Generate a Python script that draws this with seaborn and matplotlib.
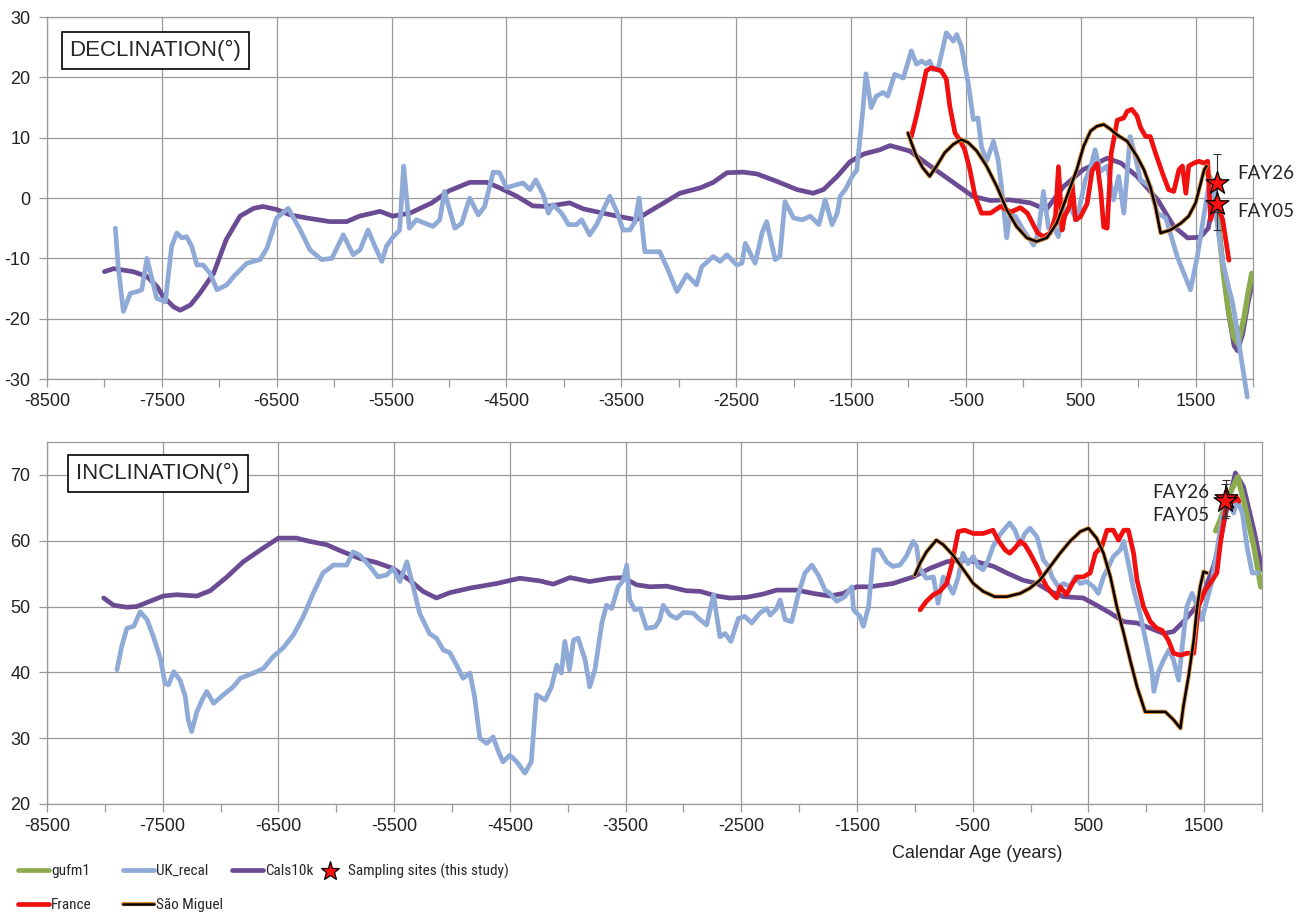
import os
import matplotlib
matplotlib.use("Agg")
import matplotlib.pyplot as plt
import matplotlib.patheffects as pe
from matplotlib import font_manager
from matplotlib.lines import Line2D
import pandas as pd
import seaborn as sns

# ---------------------------------------------------------------- data
# Declination (degrees) against calendar age (years)
CALS10K_DEC = [(-8000, -12.2), (-7920, -11.7), (-7750, -12.2), (-7630, -13.0), (-7540, -14.7),
               (-7490, -16.3), (-7400, -18.0), (-7340, -18.6), (-7250, -17.7), (-7170, -15.8),
               (-7050, -12.5), (-6940, -6.9), (-6820, -3.0), (-6700, -1.7), (-6620, -1.4),
               (-6500, -1.9), (-6380, -2.8), (-6240, -3.3), (-6040, -3.9), (-5890, -3.9),
               (-5780, -3.0), (-5600, -2.2), (-5490, -3.0), (-5340, -2.5), (-5150, -0.8),
               (-5000, 1.2), (-4820, 2.6), (-4670, 2.6), (-4560, 1.7), (-4410, 0.3),
               (-4270, -1.3), (-4150, -1.4), (-3950, -0.8), (-3830, -1.8), (-3660, -2.5),
               (-3480, -3.2), (-3370, -3.6), (-3280, -2.5), (-3130, -0.8), (-2990, 0.8),
               (-2810, 1.7), (-2700, 2.6), (-2580, 4.2), (-2440, 4.3), (-2320, 4.0),
               (-2150, 2.8), (-1970, 1.4), (-1830, 0.8), (-1740, 1.4), (-1620, 3.6),
               (-1510, 6.0), (-1390, 7.3), (-1250, 8.0), (-1160, 8.7), (-990, 7.8),
               (-810, 5.3), (-640, 3.0), (-440, 0.3), (-290, -0.4), (-120, -0.3),
               (60, -0.8), (200, -1.9), (350, 1.9), (520, 4.7), (730, 6.6), (850, 5.8),
               (990, 3.6), (1170, -0.3), (1310, -4.7), (1430, -6.6), (1540, -6.5),
               (1610, -5.0), (1640, -2.0), (1665, 1.5), (1700, -4.0), (1745, -12.5),
               (1790, -19.5), (1835, -24.5), (1865, -25.3), (1910, -22.5), (1955, -17.5),
               (1995, -14.0)]

UK_RECAL_DEC = [(-7905, -5.0), (-7880, -11.4), (-7835, -18.8), (-7775, -15.8), (-7715, -15.5),
                (-7675, -15.2), (-7630, -10.0), (-7545, -16.6), (-7470, -17.2), (-7415, -8.0),
                (-7370, -5.8), (-7325, -6.6), (-7285, -6.4), (-7240, -8.0), (-7195, -11.1),
                (-7140, -11.1), (-7080, -12.5), (-7020, -15.2), (-6935, -14.4), (-6875, -13.0),
                (-6760, -10.8), (-6645, -10.2), (-6585, -8.3), (-6500, -3.3), (-6400, -1.7),
                (-6295, -5.3), (-6210, -8.6), (-6110, -10.2), (-6020, -10.0), (-5920, -6.1),
                (-5835, -9.4), (-5775, -8.6), (-5705, -5.3), (-5645, -8.0), (-5585, -10.5),
                (-5545, -8.0), (-5485, -6.4), (-5430, -5.3), (-5395, 5.3), (-5345, -5.0),
                (-5285, -3.6), (-5140, -4.7), (-5080, -3.6), (-5040, 1.1), (-4950, -5.0),
                (-4890, -4.2), (-4820, 0.0), (-4745, -2.8), (-4690, -1.4), (-4615, 4.3),
                (-4560, 4.2), (-4500, 1.7), (-4415, 2.2), (-4355, 2.5), (-4295, 1.4),
                (-4245, 3.0), (-4180, 0.6), (-4135, -2.5), (-4095, -1.1), (-4020, -2.5),
                (-3960, -4.4), (-3890, -4.4), (-3845, -3.6), (-3775, -6.1), (-3715, -4.4),
                (-3655, -1.9), (-3600, 0.3), (-3540, -2.2), (-3485, -5.3), (-3425, -5.3),
                (-3380, -3.9), (-3345, 0.0), (-3295, -8.9), (-3165, -8.9), (-3105, -11.4),
                (-3015, -15.5), (-2930, -12.7), (-2845, -14.4), (-2800, -11.4), (-2700, -9.7),
                (-2640, -10.5), (-2580, -9.4), (-2495, -11.1), (-2450, -10.8), (-2420, -7.5),
                (-2335, -10.8), (-2275, -5.8), (-2235, -3.9), (-2160, -10.2), (-2120, -9.7),
                (-2075, -0.6), (-2000, -3.3), (-1925, -3.6), (-1855, -3.0), (-1780, -4.4),
                (-1725, -0.3), (-1665, -4.4), (-1620, -2.5), (-1595, 0.3), (-1550, 1.4),
                (-1490, 3.6), (-1450, 4.6), (-1400, 14.0), (-1370, 20.6), (-1325, 15.0),
                (-1280, 16.9), (-1220, 17.5), (-1180, 16.9), (-1120, 20.5), (-1045, 19.9),
                (-975, 24.4), (-930, 22.2), (-885, 22.7), (-845, 22.2), (-815, 22.7),
                (-785, 21.3), (-740, 21.6), (-670, 27.4), (-610, 26.0), (-580, 27.1),
                (-540, 25.2), (-480, 19.1), (-435, 13.0), (-395, 13.3), (-365, 8.6),
                (-320, 6.1), (-260, 9.4), (-220, 6.4), (-190, 1.9), (-145, -6.6),
                (-115, -2.5), (-70, -3.0), (0, -5.3), (90, -7.8), (130, -5.8), (175, 1.1),
                (220, -5.0), (265, -4.7), (305, -6.4), (350, -1.7), (410, -1.7), (465, -3.6),
                (540, 3.0), (585, 5.0), (625, 8.0), (670, 4.4), (730, 5.3), (785, -0.3),
                (830, 3.6), (875, -2.5), (930, 10.2), (975, 6.9), (1020, 3.0), (1105, 1.9),
                (1165, -2.5), (1240, -3.3), (1340, -9.7), (1455, -15.2), (1515, -9.7),
                (1575, -2.5), (1610, 1.5), (1640, 3.0), (1680, -3.0), (1730, -10.0),
                (1790, -15.0), (1820, -17.2), (1850, -20.5), (1890, -25.7), (1950, -33.0)]

GUFM1_DEC = [(1590, 4.5), (1620, 3.5), (1650, 1.0), (1690, -3.1), (1740, -12.0), (1780, -18.0),
             (1830, -23.0), (1870, -24.2), (1920, -20.0), (1960, -15.5), (1990, -12.5)]

FRANCE_DEC = [(-975, 10.2), (-930, 13.6), (-885, 17.5), (-845, 21.1), (-800, 21.6), (-755, 21.3),
              (-715, 21.1), (-670, 19.7), (-640, 15.2), (-595, 10.8), (-555, 9.7), (-510, 8.0),
              (-465, 4.7), (-420, 0.3), (-365, -2.5), (-285, -2.5), (-200, -1.4), (-110, -2.3),
              (-25, -1.6), (35, -2.5), (125, -5.8), (175, -6.4), (235, -5.8), (280, -3.0),
              (306, 5.2), (338, -5.3), (360, -3.0), (400, -1.5), (425, 2.4), (454, -3.6),
              (498, -3.1), (556, -0.9), (600, 4.6), (643, 5.7), (675, 1.0), (700, -4.8),
              (730, -5.0), (765, 7.4), (818, 12.9), (875, 13.3), (905, 14.4), (945, 14.7),
              (990, 13.6), (1020, 11.7), (1065, 10.2), (1105, 10.2), (1150, 7.5), (1210, 4.2),
              (1265, 1.4), (1310, 1.1), (1355, 4.7), (1385, 5.3), (1415, 0.8), (1440, 5.3),
              (1485, 5.8), (1530, 6.1), (1570, 5.8), (1605, 6.1), (1631, -3.6), (1675, -0.3),
              (1736, -3.6), (1790, -10.3)]

SAO_MIGUEL_DEC = [(-1005, 10.8), (-975, 9.2), (-930, 6.9), (-875, 5.0), (-815, 3.6), (-755, 5.3),
                  (-685, 7.5), (-610, 8.9), (-540, 9.7), (-480, 9.2), (-405, 7.8), (-320, 5.3),
                  (-230, 1.9), (-145, -1.9), (-60, -4.7), (30, -6.6), (115, -7.2), (205, -6.6),
                  (290, -4.2), (380, 0.3), (465, 4.7), (525, 8.6), (585, 11.1), (640, 11.9),
                  (700, 12.2), (760, 11.4), (815, 10.5), (905, 9.4), (990, 6.9), (1050, 4.7),
                  (1105, 1.9), (1150, -1.4), (1195, -5.8), (1280, -5.3), (1370, -4.2),
                  (1440, -3.0), (1500, -0.8), (1545, 2.5), (1575, 4.7), (1595, 5.3)]

# Inclination (degrees) against calendar age (years)
CALS10K_INC = [(-8010, 51.3), (-7925, 50.2), (-7810, 49.9), (-7725, 50.0), (-7610, 50.8),
               (-7495, 51.6), (-7380, 51.8), (-7205, 51.6), (-7090, 52.4), (-6945, 54.5),
               (-6805, 56.8), (-6630, 58.9), (-6500, 60.4), (-6345, 60.4), (-6230, 59.9),
               (-6085, 59.4), (-5940, 58.3), (-5795, 57.3), (-5655, 56.7), (-5510, 55.8),
               (-5365, 54.0), (-5250, 52.3), (-5135, 51.3), (-5020, 52.1), (-4845, 52.8),
               (-4615, 53.5), (-4415, 54.3), (-4240, 53.9), (-4125, 53.4), (-3980, 54.4),
               (-3810, 53.8), (-3635, 54.3), (-3520, 54.4), (-3405, 53.3), (-3290, 53.0),
               (-3145, 53.1), (-2975, 52.4), (-2855, 52.3), (-2715, 51.6), (-2600, 51.3),
               (-2455, 51.4), (-2310, 51.9), (-2195, 52.5), (-2020, 52.5), (-1880, 52.0),
               (-1735, 51.6), (-1620, 52.0), (-1505, 53.0), (-1390, 53.0), (-1190, 53.5),
               (-1015, 54.5), (-870, 55.8), (-725, 56.8), (-610, 57.1), (-465, 56.8),
               (-320, 56.1), (-205, 55.1), (-65, 54.0), (55, 53.5), (170, 52.3), (285, 51.5),
               (455, 51.3), (570, 50.2), (690, 49.0), (805, 47.7), (920, 47.5), (1035, 46.7),
               (1150, 45.9), (1235, 46.2), (1320, 47.7), (1410, 49.5), (1495, 52.0),
               (1580, 56.1), (1640, 60.1), (1700, 65.2), (1770, 70.3), (1840, 68.2),
               (1930, 61.6), (2000, 55.6)]

UK_RECAL_INC = [(-7895, 40.4), (-7855, 43.9), (-7810, 46.7), (-7750, 47.0), (-7695, 49.2),
                (-7635, 48.0), (-7580, 45.4), (-7520, 42.1), (-7480, 38.3), (-7450, 38.1),
                (-7405, 40.1), (-7350, 38.8), (-7305, 36.3), (-7280, 32.8), (-7250, 31.0),
                (-7205, 34.0), (-7160, 35.8), (-7120, 37.1), (-7060, 35.3), (-6975, 36.6),
                (-6890, 37.8), (-6830, 39.1), (-6715, 39.9), (-6630, 40.6), (-6545, 42.4),
                (-6460, 43.7), (-6370, 45.7), (-6285, 48.5), (-6200, 52.0), (-6115, 55.1),
                (-6025, 56.3), (-5910, 56.3), (-5855, 58.3), (-5795, 57.8), (-5710, 56.1),
                (-5640, 54.5), (-5565, 54.8), (-5510, 55.8), (-5450, 53.8), (-5390, 56.8),
                (-5335, 53.0), (-5280, 49.0), (-5195, 45.9), (-5135, 45.2), (-5075, 43.4),
                (-5020, 43.0), (-4960, 41.1), (-4905, 39.1), (-4845, 39.9), (-4805, 36.3),
                (-4760, 30.0), (-4700, 29.2), (-4645, 30.2), (-4600, 28.0), (-4560, 26.4),
                (-4500, 27.4), (-4440, 26.4), (-4370, 24.7), (-4315, 26.4), (-4270, 36.6),
                (-4195, 35.8), (-4140, 37.8), (-4095, 41.1), (-4055, 39.9), (-4025, 44.7),
                (-3985, 40.4), (-3950, 44.9), (-3910, 45.2), (-3850, 41.9), (-3810, 37.8),
                (-3765, 40.4), (-3705, 47.5), (-3665, 50.2), (-3620, 49.7), (-3565, 53.0),
                (-3520, 54.0), (-3490, 56.3), (-3465, 51.0), (-3420, 49.5), (-3375, 49.7),
                (-3320, 46.7), (-3245, 46.9), (-3205, 48.0), (-3175, 50.2), (-3115, 48.7),
                (-3060, 48.2), (-3000, 49.1), (-2915, 49.0), (-2870, 48.2), (-2800, 47.2),
                (-2740, 51.8), (-2685, 45.4), (-2640, 45.9), (-2590, 44.7), (-2525, 48.2),
                (-2470, 48.5), (-2410, 47.5), (-2340, 49.0), (-2280, 49.7), (-2250, 48.7),
                (-2195, 49.7), (-2165, 51.0), (-2120, 48.0), (-2065, 47.7), (-2005, 52.0),
                (-1950, 55.1), (-1890, 56.3), (-1835, 54.8), (-1775, 52.5), (-1735, 52.0),
                (-1675, 50.8), (-1605, 51.5), (-1545, 53.0), (-1530, 49.5), (-1475, 48.5),
                (-1445, 47.0), (-1400, 50.0), (-1355, 58.6), (-1305, 58.6), (-1245, 56.8),
                (-1190, 56.1), (-1130, 56.3), (-1075, 57.6), (-1015, 59.9), (-985, 59.1),
                (-960, 55.8), (-900, 54.3), (-840, 54.5), (-800, 50.5), (-755, 54.5),
                (-700, 53.0), (-670, 52.0), (-625, 54.5), (-585, 58.1), (-540, 56.5),
                (-495, 57.6), (-455, 56.1), (-410, 55.6), (-365, 57.1), (-325, 59.1),
                (-265, 60.9), (-220, 61.9), (-180, 62.7), (-135, 61.6), (-90, 59.4),
                (-50, 61.1), (-5, 61.9), (55, 60.6), (110, 57.1), (155, 56.1), (185, 54.5),
                (240, 53.0), (285, 53.5), (340, 53.0), (385, 54.5), (430, 53.5), (485, 53.8),
                (545, 53.0), (585, 52.0), (630, 54.5), (675, 56.1), (715, 57.6), (775, 58.6),
                (805, 59.9), (845, 56.6), (890, 52.6), (945, 49.0), (1005, 44.0), (1050, 40.0),
                (1065, 37.1), (1105, 40.1), (1150, 41.9), (1195, 43.4), (1235, 41.9),
                (1280, 38.8), (1310, 43.9), (1350, 50.0), (1395, 52.0), (1440, 50.0),
                (1480, 48.0), (1525, 51.0), (1570, 54.0), (1610, 58.6), (1655, 63.2),
                (1700, 66.2), (1755, 64.2), (1785, 66.2), (1830, 64.2), (1870, 59.1),
                (1915, 55.1), (1960, 55.1)]

GUFM1_INC = [(1600, 61.5), (1640, 63.2), (1710, 66.7), (1790, 69.7), (1840, 66.2), (1930, 59.1),
             (1990, 53.0)]

FRANCE_INC = [(-955, 49.5), (-900, 50.8), (-840, 51.8), (-785, 52.3), (-725, 53.5), (-685, 56.1),
              (-625, 61.4), (-570, 61.6), (-495, 61.1), (-410, 61.1), (-325, 61.6), (-280, 60.1),
              (-220, 58.6), (-180, 58.1), (-135, 58.9), (-90, 59.9), (-50, 59.4), (-5, 58.1),
              (55, 56.1), (95, 54.5), (140, 53.0), (195, 51.8), (225, 51.3), (255, 53.0),
              (310, 51.8), (355, 53.3), (400, 54.5), (455, 54.5), (515, 55.1), (560, 58.1),
              (615, 59.1), (660, 61.6), (715, 61.6), (760, 60.1), (805, 61.6), (845, 61.6),
              (890, 58.1), (920, 54.0), (975, 50.0), (1035, 47.7), (1090, 46.7), (1135, 46.4),
              (1190, 44.9), (1235, 42.9), (1295, 42.6), (1350, 42.9), (1410, 42.9), (1450, 50.0),
              (1510, 52.5), (1570, 54.0), (1610, 55.1), (1640, 59.6), (1685, 64.7), (1725, 65.7),
              (1785, 66.5), (1800, 66.0)]

SAO_MIGUEL_INC = [(-1000, 54.8), (-955, 56.6), (-900, 58.3), (-815, 60.1), (-755, 59.4),
                  (-670, 57.8), (-580, 55.6), (-495, 53.5), (-410, 52.3), (-310, 51.5),
                  (-205, 51.5), (-90, 52.0), (-5, 52.8), (80, 54.0), (170, 56.1), (255, 58.1),
                  (340, 59.9), (430, 61.4), (500, 61.9), (570, 60.4), (630, 58.1), (690, 54.5),
                  (745, 50.0), (805, 45.9), (860, 41.9), (920, 37.8), (990, 34.0), (1065, 34.0),
                  (1165, 34.0), (1235, 32.8), (1295, 31.5), (1320, 34.8), (1365, 39.4),
                  (1410, 44.9), (1440, 50.0), (1465, 53.0), (1495, 55.3), (1525, 55.1)]

# Sampling sites of this study: name, age, declination, dec. error, inclination, inc. error
SITE_NAMES = ["FAY26", "FAY05"]
SITE_AGE = [1690, 1684]
SITE_DEC = [2.5, -1.0]
SITE_DEC_ERR = [4.8, 4.3]
SITE_INC = [66.5, 66.0]
SITE_INC_ERR = [2.7, 2.6]

X_TICKS = list(range(-8500, 1501, 1000))
DEC_TICKS = list(range(-30, 31, 10))
INC_TICKS = list(range(20, 71, 10))

# ---------------------------------------------------------------- style
C_GUFM = "#8bab4e"
C_UK = "#8faad6"
C_CALS = "#6b4c94"
C_FRANCE = "#f01010"
C_SAO = "#000000"
C_SAO_EDGE = "#e8923a"
C_GRID = "#9a9a9a"

LW = 3.4          # width of the model / reference curves
LW_GUFM = 4.0
LW_SAO = 1.8

sns.set_style("white")


def pick_family(candidates):
    for name in candidates:
        try:
            font_manager.findfont(font_manager.FontProperties(family=name),
                                  fallback_to_default=False)
            return name
        except Exception:
            continue
    return "DejaVu Sans"


def narrow_font(size):
    """A condensed sans face for the legend when one is installed."""
    wanted = ["liberationsansnarrow-regular", "arialn.", "arial narrow",
              "robotocondensed-regular", "opensans-condensedregular",
              "opensans_condensed-regular"]
    for entry in font_manager.fontManager.ttflist:
        base = os.path.basename(entry.fname).lower()
        if any(w in base for w in wanted):
            return font_manager.FontProperties(fname=entry.fname, size=size), True
    return font_manager.FontProperties(family=SANS, size=size - 0.6), False


SANS = pick_family(["Liberation Sans", "Arial"])
LABEL_FONT = pick_family(["Lato", "Open Sans", "Noto Sans"])
plt.rcParams["font.family"] = [SANS, "DejaVu Sans"]
plt.rcParams["axes.unicode_minus"] = False

fig = plt.figure(figsize=(13.02, 9.18), dpi=100)
ax_dec = fig.add_axes([0.0361, 0.5871, 0.9263, 0.3943])
ax_inc = fig.add_axes([0.0361, 0.1242, 0.9332, 0.3943])

SAO_EFFECT = [pe.Stroke(linewidth=3.1, foreground=C_SAO_EDGE), pe.Normal()]


def draw_series(ax, pairs, color, lw, z, effects=None, clip=True):
    df = pd.DataFrame(pairs, columns=["year", "value"])
    sns.lineplot(data=df, x="year", y="value", ax=ax, color=color, linewidth=lw,
                 sort=False, estimator=None, legend=False, zorder=z)
    line = ax.lines[-1]
    line.set_solid_capstyle("round")
    line.set_solid_joinstyle("round")
    if effects:
        line.set_path_effects(effects)
    line.set_clip_on(clip)


def style_axes(ax, yticks, ylim):
    ax.set_xlim(-8500, 2000)
    ax.set_ylim(*ylim)
    ax.set_xticks(X_TICKS)
    ax.set_xticks(list(range(-8000, 2001, 1000)), minor=True)
    ax.set_yticks(yticks)
    ax.grid(True, which="major", color=C_GRID, linewidth=0.9)
    ax.set_axisbelow(True)
    for s in ax.spines.values():
        s.set_color(C_GRID)
        s.set_linewidth(0.9)
    ax.tick_params(axis="x", which="both", direction="out", length=6, width=0.9,
                   color=C_GRID, pad=4, labelsize=13, labelcolor="#222222", bottom=True)
    ax.tick_params(axis="y", which="major", direction="out", length=6, width=0.9,
                   color=C_GRID, pad=6, labelsize=13, labelcolor="#222222", left=True)
    ax.set_xlabel("")
    ax.set_ylabel("")


# ---------------------------------------------------------------- declination
draw_series(ax_dec, CALS10K_DEC, C_CALS, LW, 2)
draw_series(ax_dec, GUFM1_DEC, C_GUFM, LW_GUFM, 3)
draw_series(ax_dec, UK_RECAL_DEC, C_UK, LW, 4, clip=False)
draw_series(ax_dec, FRANCE_DEC, C_FRANCE, LW, 5)
draw_series(ax_dec, SAO_MIGUEL_DEC, C_SAO, LW_SAO, 6, effects=SAO_EFFECT)
style_axes(ax_dec, DEC_TICKS, (-30, 30))

# ---------------------------------------------------------------- inclination
draw_series(ax_inc, CALS10K_INC, C_CALS, LW, 2)
draw_series(ax_inc, GUFM1_INC, C_GUFM, LW_GUFM, 3)
draw_series(ax_inc, UK_RECAL_INC, C_UK, LW, 4)
draw_series(ax_inc, FRANCE_INC, C_FRANCE, LW, 5)
draw_series(ax_inc, SAO_MIGUEL_INC, C_SAO, LW_SAO, 6, effects=SAO_EFFECT)
style_axes(ax_inc, INC_TICKS, (20, 75))

# ---------------------------------------------------------------- sampling sites
sites = pd.DataFrame({"name": SITE_NAMES, "age": SITE_AGE, "dec": SITE_DEC,
                      "dec_err": SITE_DEC_ERR, "inc": SITE_INC, "inc_err": SITE_INC_ERR})

for ax, col, err in [(ax_dec, "dec", "dec_err"), (ax_inc, "inc", "inc_err")]:
    ax.errorbar(sites["age"], sites[col], yerr=sites[err], fmt="none", ecolor="#333333",
                elinewidth=0.8, capsize=3, capthick=0.8, zorder=7)
    sns.scatterplot(data=sites, x="age", y=col, ax=ax, marker="*", s=300,
                    color="#ff1010", edgecolor="black", linewidth=0.9, zorder=8, legend=False)
    ax.set_xlabel("")
    ax.set_ylabel("")

# site labels
ax_dec.text(1865, 4.1, SITE_NAMES[0], fontsize=13.5, family=LABEL_FONT, va="center", ha="left")
ax_dec.text(1865, -2.3, SITE_NAMES[1], fontsize=13.5, family=LABEL_FONT, va="center", ha="left")
ax_inc.text(1545, 67.4, SITE_NAMES[0], fontsize=13.5, family=LABEL_FONT, va="center", ha="right")
ax_inc.text(1545, 63.9, SITE_NAMES[1], fontsize=13.5, family=LABEL_FONT, va="center", ha="right")

# panel titles in boxes
box = dict(boxstyle="square,pad=0.36", facecolor="white", edgecolor="black", linewidth=1.2)
ax_dec.text(0.09, 0.9075, "DECLINATION(°)", transform=ax_dec.transAxes, fontsize=16,
            ha="center", va="center", bbox=box, zorder=10)
ax_inc.text(0.0914, 0.913, "INCLINATION(°)", transform=ax_inc.transAxes, fontsize=16,
            ha="center", va="center", bbox=box, zorder=10)

fig.text(0.7508, 1 - 854 / 918, "Calendar Age (years)", fontsize=13, ha="center", va="center",
         color="#222222")

# ---------------------------------------------------------------- legend
def line_handle(color, lw, effects=None):
    h = Line2D([], [], color=color, linewidth=lw)
    if effects:
        h.set_path_effects(effects)
    return h


star_handle = Line2D([], [], linestyle="none", marker="*", markersize=14,
                     markerfacecolor="#ff1010", markeredgecolor="black", markeredgewidth=0.9)

legend_prop, is_narrow = narrow_font(11)
row_gap = 1.3 if is_narrow else 1.4

legend_groups = [
    (18, [line_handle(C_GUFM, LW), line_handle(C_FRANCE, LW)], ["gufm1", "France"]),
    (123, [line_handle(C_UK, LW), line_handle(C_SAO, LW_SAO, SAO_EFFECT)], ["UK_recal", "São Miguel"]),
    (232, [line_handle(C_CALS, LW)], ["Cals10k"]),
    (315, [star_handle], ["Sampling sites (this study)"]),
]
for x_px, handles, labels in legend_groups:
    fig.legend(handles, labels, loc="upper left", bbox_to_anchor=(x_px / 1302, 1 - 864 / 918),
               frameon=False, borderpad=0, borderaxespad=0, handlelength=2.0,
               handletextpad=0.15, labelspacing=row_gap, prop=legend_prop)

fig.savefig("out.png", dpi=100, facecolor="white")
